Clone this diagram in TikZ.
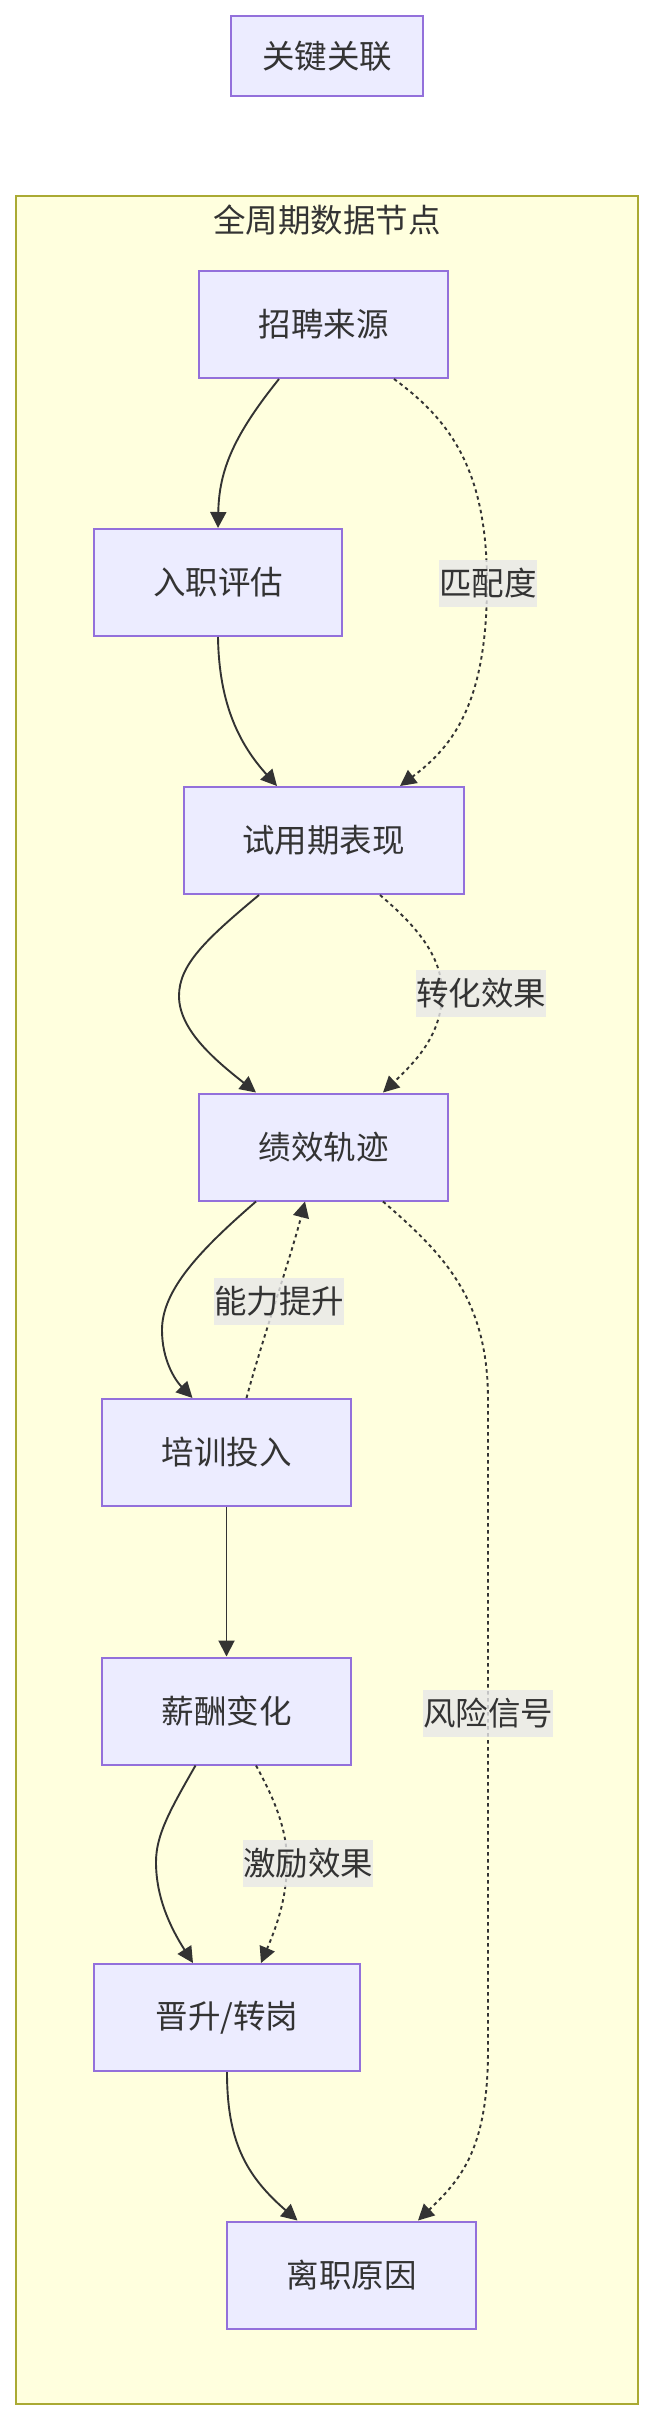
\documentclass[tikz,border=0pt]{standalone}
\usepackage{fontspec}
\setmainfont{Noto Sans CJK SC}
\usetikzlibrary{arrows.meta,calc}
\definecolor{nodefill}{HTML}{ECECFF}
\definecolor{nodeline}{HTML}{9370DB}
\definecolor{clfill}{HTML}{FFFFDE}
\definecolor{clline}{HTML}{AAAA33}
\definecolor{edgec}{HTML}{333333}
\definecolor{lblbg}{HTML}{E8E8E8}
\begin{document}
\begin{tikzpicture}[x=1pt,y=-1pt,
  txt/.style={text=edgec, font=\fontsize{32.5}{39}\selectfont},
  box/.style={txt, draw=nodeline, fill=nodefill, line width=2pt, minimum width=#1, minimum height=107pt, inner sep=0pt},
  lbl/.style={txt, fill=lblbg, fill opacity=0.8, text opacity=1, inner xsep=0pt, inner ysep=0pt, minimum height=47pt},
  edge/.style={draw=edgec, line width=1.9pt, -{Triangle[length=16pt,width=16pt]}},
  dotedge/.style={edge, dash pattern=on 3.5pt off 3.5pt}
]
\useasboundingbox (0,0) rectangle (653,2420);
\fill[white] (0,0) rectangle (653,2420);

% top node
\node[box=192pt, minimum height=80pt] (key) at (327,56) {关键关联};

% cluster
\draw[clline, fill=clfill, line width=2pt] (15.5,196) rectangle (637.5,2403.5);
\node[txt] (title) at (327,220) {全周期数据节点};

% nodes
\node[box=249pt] (zp) at (323.5,324.5) {招聘来源};
\node[box=248pt] (rz) at (218,582.5) {入职评估};
\node[box=280pt] (sy) at (323.5,840.5) {试用期表现};
\node[box=249pt] (jx) at (323.5,1147) {绩效轨迹};
\node[box=249pt] (px) at (226.5,1452.5) {培训投入};
\node[box=249pt] (xc) at (226.5,1711) {薪酬变化};
\node[box=266pt] (js) at (227,2017.5) {晋升/转岗};
\node[box=249pt] (lz) at (351.5,2275) {离职原因};

% solid edges
\draw[edge] ([xshift=-44.5pt]zp.south) .. controls (234,435) and (219,470) .. (rz.north);
\draw[edge] (rz.south) .. controls (219,705) and (240,745) .. ([xshift=-46.5pt]sy.north);
\draw[edge] ([xshift=-64.5pt]sy.south) .. controls (205,940) and (179,965) .. (179,996)
  .. controls (179,1030) and (215,1060) .. ([xshift=-67.5pt]jx.north);
\draw[edge] ([xshift=-67.5pt]jx.south) .. controls (200,1250) and (162,1290) .. (162,1330)
  .. controls (162,1360) and (175,1380) .. ([xshift=-34pt]px.north);
\draw[edge] (px.south) -- (xc.north);
\draw[edge] ([xshift=-31pt]xc.south) .. controls (170,1810) and (156,1835) .. (156,1862)
  .. controls (156,1897) and (170,1927) .. ([xshift=-34pt]js.north);
\draw[edge] (js.south) .. controls (227,2140) and (245,2175) .. ([xshift=-54pt]lz.north);

% dotted edges
\draw[dotedge] ([xshift=70.5pt]zp.south) .. controls (450,420) and (487,470) .. (487,583)
  .. controls (487,700) and (455,745) .. ([xshift=76.5pt]sy.north);
\draw[dotedge] ([xshift=56.5pt]sy.south) .. controls (415,925) and (442,955) .. (442,993)
  .. controls (442,1035) and (415,1062) .. ([xshift=59.5pt]jx.north);
\draw[dotedge] ([xshift=20pt]px.north) .. controls (262,1340) and (290,1260) .. ([xshift=-18.5pt]jx.south);
\draw[dotedge] ([xshift=59.5pt]jx.south) .. controls (445,1255) and (488,1300) .. (488,1400)
  -- (488,2050) .. controls (488,2150) and (460,2180) .. ([xshift=66.5pt]lz.north);
\draw[dotedge] ([xshift=29.5pt]xc.south) .. controls (275,1800) and (287,1830) .. (287,1862)
  .. controls (287,1900) and (275,1930) .. ([xshift=34pt]js.north);

% edge labels
\node[lbl] (l1) at (488,583.5) {匹配度};
\node[lbl] (l2) at (481,993) {转化效果};
\node[lbl] (l3) at (279,1301) {能力提升};
\node[lbl] (l4) at (488,1713) {风险信号};
\node[lbl] (l5) at (308,1863) {激励效果};
\end{tikzpicture}
\end{document}
